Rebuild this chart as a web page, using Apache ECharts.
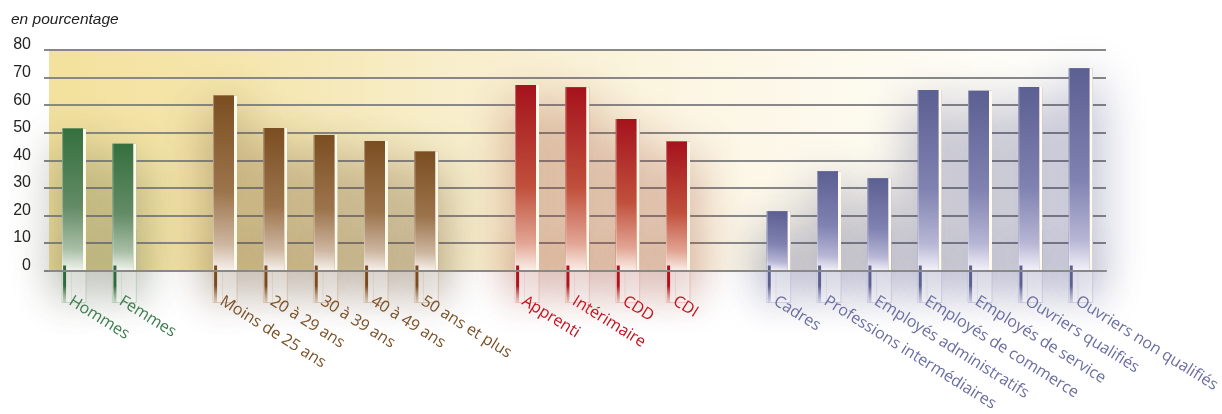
<!DOCTYPE html>
<html lang="fr">
<head>
<meta charset="utf-8">
<title>en pourcentage</title>
<script src="https://cdn.jsdelivr.net/npm/echarts@6/dist/echarts.min.js"></script>
<style>
  html, body { margin: 0; padding: 0; background: #ffffff; }
  #chart { width: 1222px; height: 414px; }
</style>
</head>
<body>
<div id="chart"></div>
<script>
// Values (percent), one pair of arrays per group of bars
const sexLabels = ['Hommes', 'Femmes'];
const sexValues = [51.5, 46];

const ageLabels = ['Moins de 25 ans', '20 à 29 ans', '30 à 39 ans', '40 à 49 ans', '50 ans et plus'];
const ageValues = [63.5, 51.7, 49.2, 47, 43.2];

const contractLabels = ['Apprenti', 'Intérimaire', 'CDD', 'CDI'];
const contractValues = [67.3, 66.5, 55, 46.8];

const jobLabels = ['Cadres', 'Professions intermédiaires', 'Employés administratifs',
  'Employés de commerce', 'Employés de service', 'Ouvriers qualifiés', 'Ouvriers non qualifiés'];
const jobValues = [21.5, 36, 33.5, 65.5, 65.2, 66.6, 73.4];

const yMin = 0, yMax = 80, yStep = 10;
const unitLabel = 'en pourcentage';

// Colours of each group
const palettes = [
  { top: '#34703e', mid: '#638b66', low: '#a9bfa6', bottom: '#f1f4ee', shadow: 'rgba(66,76,48,0.62)', haze: 'rgba(66,80,56,0.35)', label: '#3b7b4e', tick: '#2e6a3b', box: 'rgba(160,190,160,0.55)' },
  { top: '#7b4e21', mid: '#9c744c', low: '#cdb6a0', bottom: '#f7f1ec', shadow: 'rgba(82,52,20,0.62)', haze: 'rgba(90,60,30,0.35)', label: '#7b5026', tick: '#7a4b20', box: 'rgba(200,170,140,0.55)' },
  { top: '#a5121c', mid: '#c0503c', low: '#e2a594', bottom: '#faefe9', shadow: 'rgba(140,42,22,0.58)', haze: 'rgba(150,50,30,0.32)', label: '#c3111d', tick: '#b0121c', box: 'rgba(225,170,160,0.55)' },
  { top: '#5b5f91', mid: '#8082b1', low: '#b7b6d5', bottom: '#f3f1f9', shadow: 'rgba(45,48,110,0.56)', haze: 'rgba(60,62,120,0.32)', label: '#6a6ea1', tick: '#5b5f91', box: 'rgba(180,180,215,0.55)' }
];

const groups = [
  { labels: sexLabels, values: sexValues },
  { labels: ageLabels, values: ageValues },
  { labels: contractLabels, values: contractValues },
  { labels: jobLabels, values: jobValues }
];

// One empty category between consecutive groups
const categories = [];
const barData = [];
groups.forEach((g, gi) => {
  if (gi > 0) categories.push('');
  g.labels.forEach((lab, i) => {
    barData.push([categories.length, g.values[i], gi]);
    categories.push(lab);
  });
});

const LABEL_ANGLE = 32 * Math.PI / 180;

function barGeometry(api) {
  const idx = api.value(0);
  const top = api.coord([idx, api.value(1)]);
  const base = api.coord([idx, 0]);
  const band = api.size([1, 0])[0];
  const left = top[0] - band * 0.24;
  const width = band * 0.415;
  return { idx, top, base, band, left, width, cx: top[0] };
}

// Soft halo cast behind every bar (drawn first so it never covers a neighbour)
function renderShadow(params, api) {
  const g = barGeometry(api);
  const p = palettes[api.value(2)];
  const h = g.base[1] - g.top[1];
  const footH = Math.min(40, h);
  return {
    type: 'group',
    silent: true,
    children: [
      {
        type: 'rect',
        shape: { x: g.left, y: g.top[1], width: g.width + 3, height: h },
        style: { fill: p.mid, shadowBlur: 50, shadowColor: p.shadow, shadowOffsetY: 16 }
      },
      {
        type: 'rect',
        shape: { x: g.left, y: g.base[1] - footH, width: g.width + 3, height: footH },
        style: { fill: p.mid, shadowBlur: 40, shadowColor: p.haze, shadowOffsetY: 26 }
      }
    ]
  };
}

// Bar body, light edge, reflection below the axis and rotated category label
function renderBar(params, api) {
  const g = barGeometry(api);
  const p = palettes[api.value(2)];
  const h = g.base[1] - g.top[1];
  const y0 = g.base[1];
  return {
    type: 'group',
    children: [
      {
        type: 'rect',
        shape: { x: g.left, y: y0 + 1, width: g.width + 3, height: 31 },
        style: { fill: 'rgba(255,255,255,0.3)', stroke: p.box, lineWidth: 1 }
      },
      {
        type: 'rect',
        shape: { x: g.left + 9, y: y0 + 1, width: 0.5, height: 31 },
        style: { fill: p.box }
      },
      {
        type: 'rect',
        shape: { x: g.left, y: g.top[1], width: g.width, height: h },
        style: {
          fill: {
            type: 'linear', x: 0.65, y: 0, x2: 0.35, y2: 1,
            colorStops: [
              { offset: 0, color: p.top },
              { offset: 0.55, color: p.mid },
              { offset: 0.85, color: p.low },
              { offset: 1, color: p.bottom }
            ]
          }
        }
      },
      {
        type: 'rect',
        shape: { x: g.left, y: g.top[1], width: 1, height: h },
        style: { fill: 'rgba(255,255,255,0.35)' }
      },
      {
        type: 'rect',
        shape: { x: g.left + g.width, y: g.top[1], width: 3, height: h },
        style: { fill: '#fffaea' }
      },
      {
        type: 'rect',
        shape: { x: g.left + 1, y: y0 - 5, width: 3, height: 37 },
        style: {
          fill: {
            type: 'linear', x: 0, y: 0, x2: 0, y2: 1,
            colorStops: [
              { offset: 0, color: p.tick },
              { offset: 0.55, color: p.tick },
              { offset: 1, color: p.box }
            ]
          }
        }
      },
      {
        type: 'text',
        x: g.cx + 0.5,
        y: y0 + 22.5,
        rotation: -LABEL_ANGLE,
        style: {
          text: categories[g.idx],
          fill: p.label,
          font: '16px "Open Sans"',
          align: 'left',
          verticalAlign: 'top'
        }
      }
    ]
  };
}

const chart = echarts.init(document.getElementById('chart'));
chart.setOption({
  animation: false,
  backgroundColor: '#ffffff',
  title: {
    text: unitLabel,
    left: 11,
    top: 12,
    padding: 0,
    textStyle: { fontStyle: 'italic', fontWeight: 'normal', fontSize: 15.5, color: '#222', fontFamily: 'Liberation Sans' }
  },
  grid: {
    left: 49, right: 116, top: 50, bottom: 143.5,
    show: true, borderWidth: 0,
    backgroundColor: {
      type: 'linear', x: 0, y: 0, x2: 1, y2: 0,
      colorStops: [
        { offset: 0, color: '#f3e19d' },
        { offset: 0.18, color: '#f5e6ac' },
        { offset: 0.38, color: '#f8eecb' },
        { offset: 0.62, color: '#fcf6e4' },
        { offset: 0.85, color: '#fefcf4' },
        { offset: 1, color: '#ffffff' }
      ]
    }
  },
  xAxis: {
    type: 'category',
    data: categories,
    boundaryGap: true,
    z: 5,
    axisLine: { lineStyle: { color: '#888888', width: 2 } },
    axisTick: { show: false },
    axisLabel: { show: false },
    splitLine: { show: false }
  },
  yAxis: {
    type: 'value',
    min: yMin, max: yMax, interval: yStep,
    axisLine: { show: false },
    axisTick: { show: true, length: 5, lineStyle: { color: '#888888', width: 2 } },
    splitLine: { lineStyle: { color: '#888888', width: 2 } },
    axisLabel: { color: '#222', fontSize: 16, fontFamily: 'Liberation Sans', margin: 18, verticalAlign: 'bottom', lineHeight: 10 }
  },
  series: [
    { type: 'custom', name: 'ombre', data: barData, encode: { x: 0, y: 1 }, renderItem: renderShadow, silent: true, z: 2 },
    { type: 'custom', name: 'valeurs', data: barData, encode: { x: 0, y: 1 }, renderItem: renderBar, z: 3 }
  ]
});
</script>
</body>
</html>
